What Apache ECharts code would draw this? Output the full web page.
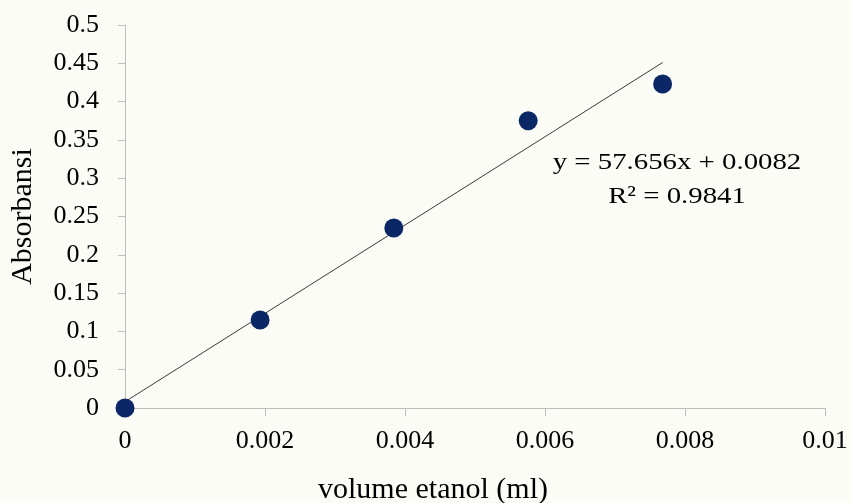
<!DOCTYPE html>
<html>
<head>
<meta charset="utf-8">
<script src="https://cdn.jsdelivr.net/npm/echarts@6/dist/echarts.min.js"></script>
<style>
html,body{margin:0;padding:0;background:#fcfcf7;}
#c{width:852px;height:503px;}
</style>
</head>
<body>
<div id="c"></div>
<script>
// Data
var volumeEtanol = [0, 0.00193, 0.00384, 0.00576, 0.00768];
var absorbansi = [0, 0.115, 0.235, 0.375, 0.423];
// Trendline endpoints (y = 57.656x + 0.0082) as drawn
var trendX = [0, 0.00768];
var trendY = [0.0082, 0.451];
var equationText = 'y = 57.656x + 0.0082';
var r2Text = 'R² = 0.9841';
var xTitle = 'volume etanol (ml)';
var yTitle = 'Absorbansi';

var chart = echarts.init(document.getElementById('c'));
var font = '"Liberation Serif", "Times New Roman", serif';
var axisGray = '#bfbfbf';
chart.setOption({
  backgroundColor: '#fcfcf7',
  animation: false,
  textStyle: {fontFamily: font},
  grid: {left: 125, right: 27, top: 25, bottom: 95, containLabel: false, outerBoundsMode: 'none'},
  xAxis: {
    type: 'value', min: 0, max: 0.01, interval: 0.002,
    name: xTitle, nameLocation: 'middle', nameGap: 67,
    nameTextStyle: {fontFamily: font, fontSize: 30, color: '#000', padding: [0, 84, 0, 0]},
    axisLine: {show: true, lineStyle: {color: axisGray, width: 1}},
    axisTick: {show: true, length: 8, lineStyle: {color: axisGray}},
    axisLabel: {fontFamily: font, fontSize: 26, color: '#000', margin: 20},
    splitLine: {show: false}
  },
  yAxis: {
    type: 'value', min: 0, max: 0.5, interval: 0.05,
    name: yTitle, nameLocation: 'middle', nameGap: 87, nameRotate: 90,
    nameTextStyle: {fontFamily: font, fontSize: 30, color: '#000'},
    axisLine: {show: true, lineStyle: {color: axisGray, width: 1}},
    axisTick: {show: true, length: 7, lineStyle: {color: axisGray}},
    axisLabel: {fontFamily: font, fontSize: 26, color: '#000', margin: 26},
    splitLine: {show: false}
  },
  series: [
    {
      type: 'line',
      data: trendX.map(function(x, i){return [x, trendY[i]];}),
      symbol: 'none',
      lineStyle: {color: '#3a3a3a', width: 1},
      z: 2
    },
    {
      type: 'scatter',
      data: volumeEtanol.map(function(x, i){return [x, absorbansi[i]];}),
      symbol: 'circle', symbolSize: 19,
      itemStyle: {color: '#0b2766', opacity: 1},
      z: 3
    }
  ],
  graphic: [
    {type: 'text', x: 677, y: 163, scaleX: 1.2, style: {text: equationText, font: '24px ' + font, fill: '#000', align: 'center', verticalAlign: 'middle'}},
    {type: 'text', x: 677, y: 197, scaleX: 1.2, style: {text: r2Text, font: '24px ' + font, fill: '#000', align: 'center', verticalAlign: 'middle'}}
  ]
});
</script>
</body>
</html>
